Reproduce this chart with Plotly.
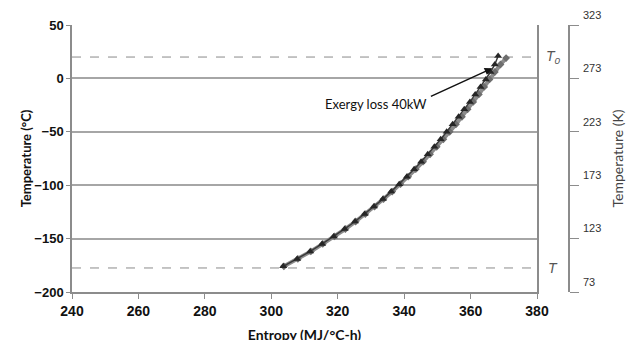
import plotly.graph_objects as go

# Entropy (MJ/°C-h) vs temperature (°C)
dark_T = [-176, -169, -162, -155, -148, -141, -134, -127, -120, -113, -106, -99,
          -92, -85, -78, -71, -64, -57, -50, -43, -36, -29, -22, -15, -8, -1,
          6, 13, 21]
dark_S = [303.6, 307.8, 311.7, 315.3, 318.8, 322.1, 325.2, 328.1, 330.9, 333.6,
          336.1, 338.5, 340.8, 343.0, 345.1, 347.1, 349.1, 351.0, 352.8, 354.6,
          356.4, 358.1, 359.8, 361.4, 363.0, 364.6, 366.0, 367.3, 368.3]

gray_T = [-176, -169, -162, -155, -148, -141, -134, -127, -120, -113, -106, -99,
          -92, -85, -78, -71, -64, -57, -50, -43, -36, -29, -22, -15, -8, -1,
          6, 13, 19]
gray_S = [303.8, 308.0, 311.9, 315.5, 319.0, 322.3, 325.4, 328.3, 331.1, 333.8,
          336.4, 338.9, 341.2, 343.5, 345.7, 347.8, 349.8, 351.8, 353.7, 355.6,
          357.4, 359.1, 360.8, 362.5, 364.1, 365.7, 367.3, 369.0, 370.7]

T0_C = 20
T_C = -177.5
kelvin_ticks = [73, 123, 173, 223, 273, 323]

x_domain_end = 465 / 497

fig = go.Figure()

for yv in [T0_C, T_C]:
    fig.add_trace(go.Scatter(x=[240, 380], y=[yv, yv], mode="lines",
                             line=dict(color="#8a8a8a", width=1, dash="dash"),
                             hoverinfo="skip", showlegend=False))

fig.add_trace(go.Scatter(x=gray_S, y=gray_T, mode="lines+markers",
                         line=dict(color="#8c8c8c", width=4),
                         marker=dict(symbol="diamond", size=6, color="#6e6e6e"),
                         showlegend=False))
fig.add_trace(go.Scatter(x=dark_S, y=dark_T, mode="lines+markers",
                         line=dict(color="#3a3a3a", width=1.5),
                         marker=dict(symbol="triangle-up", size=7, color="#262626"),
                         showlegend=False))

# dummy trace for right axis
fig.add_trace(go.Scatter(x=[None], y=[None], yaxis="y2", showlegend=False))

fig.add_annotation(x=366.5, y=9.5, ax=347.6, ay=-17.5, xref="x", yref="y",
                   axref="x", ayref="y", text="", showarrow=True,
                   arrowhead=2, arrowsize=1, arrowwidth=1.5, arrowcolor="#111")
fig.add_annotation(x=347.6, y=-24, xref="x", yref="y", text="Exergy loss 40kW",
                   showarrow=False, xanchor="right", yanchor="middle",
                   font=dict(family="Lato, Open Sans, sans-serif", size=13, color="#111"))

fig.add_annotation(x=0.968, y=T0_C, xref="paper", yref="y", xanchor="center",
                   text="<i>T<sub>0</sub></i>", showarrow=False,
                   font=dict(family="Liberation Sans, Arial", size=14, color="#555"))
fig.add_annotation(x=0.968, y=T_C, xref="paper", yref="y", xanchor="center",
                   text="<i>T</i>", showarrow=False,
                   font=dict(family="Liberation Sans, Arial", size=14, color="#555"))

fig.update_layout(
    width=638, height=340,
    margin=dict(l=64, r=77, t=17, b=56, autoexpand=False),
    plot_bgcolor="white", paper_bgcolor="white",
    xaxis=dict(domain=[0, x_domain_end], range=[240, 380], dtick=20,
               automargin=False,
               showline=True, linecolor="#8c8c8c", linewidth=1.5,
               ticks="outside", ticklen=5, tickcolor="#8c8c8c",
               showgrid=False, zeroline=False,
               tickfont=dict(family="Liberation Sans, Arial", size=14, color="#111", weight="bold"),
               title=dict(text="Entropy (MJ/°C-h)", standoff=13,
                          font=dict(family="Lato, Open Sans, sans-serif", size=14,
                                    color="#111", weight="bold"))),
    yaxis=dict(range=[-200, 50], dtick=50, showline=True, mirror=True,
               automargin=False,
               linecolor="#8c8c8c", linewidth=1.5,
               ticks="outside", ticklen=4, tickcolor="#8c8c8c",
               showgrid=True, gridcolor="#a6a6a6", gridwidth=1.5, zeroline=False,
               tickfont=dict(family="Liberation Sans, Arial", size=13, color="#111", weight="bold"),
               title=dict(text="Temperature (°C)", standoff=0,
                          font=dict(family="Lato, Open Sans, sans-serif", size=13,
                                    color="#111", weight="bold"))),
    yaxis2=dict(overlaying="y", anchor="free", position=1.0, side="right",
                automargin=False,
                range=[73, 323], tickvals=kelvin_ticks,
                showline=True, linecolor="#8c8c8c", linewidth=1.5,
                ticks="outside", ticklen=9, tickcolor="#8c8c8c",
                showgrid=False, zeroline=False, ticklabelshift=-10, ticklabelstandoff=2,
                ticklabeloverflow="allow",
                tickfont=dict(family="Liberation Sans Narrow, Liberation Sans, Arial",
                              size=11, color="#333"),
                title=dict(text="Temperature (K)", standoff=12,
                           font=dict(family="Lato, Open Sans, sans-serif", size=14,
                                     color="#444"))),
)

fig.write_html("out.html")
